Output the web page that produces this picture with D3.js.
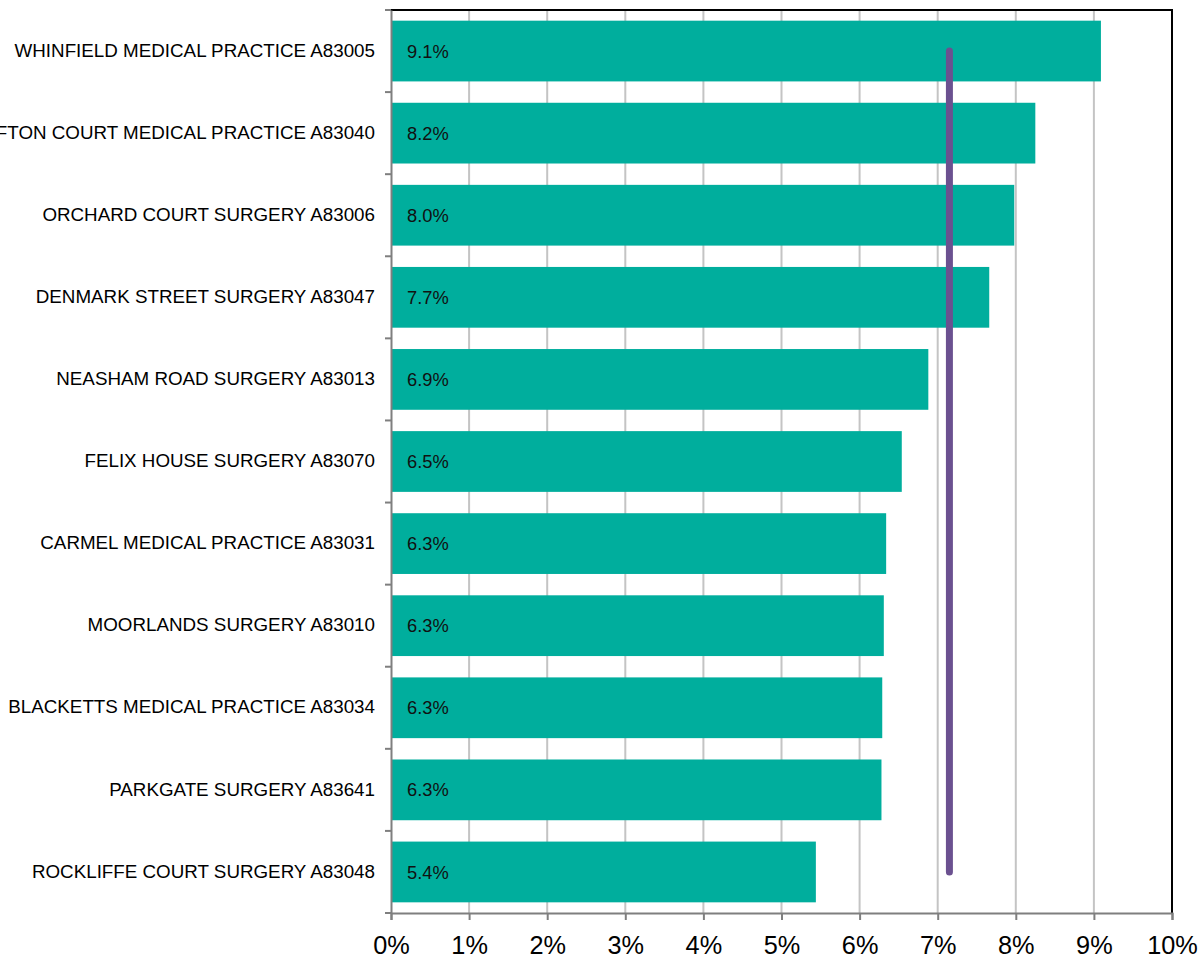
<!DOCTYPE html>
<html><head><meta charset="utf-8">
<script src="https://cdn.jsdelivr.net/npm/d3@7"></script>
<style>body{margin:0;background:#fff}svg{display:block;font-family:"Liberation Sans",Arial,sans-serif}</style>
</head><body><svg id="c" width="1203" height="958"></svg>
<script>
const categories = ["WHINFIELD MEDICAL PRACTICE A83005","CLIFTON COURT MEDICAL PRACTICE A83040","ORCHARD COURT SURGERY A83006","DENMARK STREET SURGERY A83047","NEASHAM ROAD SURGERY A83013","FELIX HOUSE SURGERY A83070","CARMEL MEDICAL PRACTICE A83031","MOORLANDS SURGERY A83010","BLACKETTS MEDICAL PRACTICE A83034","PARKGATE SURGERY A83641","ROCKLIFFE COURT SURGERY A83048"];
const values = [9.09, 8.25, 7.98, 7.66, 6.88, 6.54, 6.34, 6.31, 6.29, 6.28, 5.44];
const valueLabels = ["9.1%","8.2%","8.0%","7.7%","6.9%","6.5%","6.3%","6.3%","6.3%","6.3%","5.4%"];
const average = 7.15;
const xTicks = [0,1,2,3,4,5,6,7,8,9,10];

const svg = d3.select("#c");
const m = {l:391, r:1172, t:10, b:913};
const x = d3.scaleLinear().domain([0,10]).range([m.l, m.r]);
const y = d3.scaleBand().domain(categories).range([m.t, m.b]).paddingInner(0.26).paddingOuter(0.13);
const yb = d3.scaleBand().domain(categories).range([m.t, m.b]);

// gridlines
svg.append("g").selectAll("line").data(xTicks.slice(1,-1)).join("line")
  .attr("x1", d=>x(d)).attr("x2", d=>x(d)).attr("y1", m.t).attr("y2", m.b)
  .attr("stroke", "#c4c4c4").attr("stroke-width", 2);

// bars
svg.append("g").selectAll("rect").data(values).join("rect")
  .attr("x", x(0)).attr("y", (d,i)=>y(categories[i]))
  .attr("width", d=>x(d)-x(0)).attr("height", y.bandwidth())
  .attr("fill", "#00ae9d");

// value labels
svg.append("g").selectAll("text").data(valueLabels).join("text")
  .attr("x", x(0)+16).attr("y", (d,i)=>yb(categories[i])+yb.bandwidth()/2)
  .attr("dy", "0.36em").attr("font-size", 18.3).attr("fill", "#111").text(d=>d);

// average line
svg.append("line")
  .attr("x1", x(average)).attr("x2", x(average))
  .attr("y1", yb(categories[0])+yb.bandwidth()/2)
  .attr("y2", yb(categories[categories.length-1])+yb.bandwidth()/2)
  .attr("stroke", "#6b5190").attr("stroke-width", 7).attr("stroke-linecap", "round");

// frame top/right
svg.append("path").attr("d", `M${m.l},${m.t}H${m.r}V${m.b}`).attr("fill","none").attr("stroke","#000").attr("stroke-width",2);

// x axis
const xa = svg.append("g").attr("transform", `translate(0,${m.b})`)
  .call(d3.axisBottom(x).tickValues(xTicks).tickFormat(d=>d+"%").tickSize(7).tickPadding(16));
xa.select(".domain").attr("stroke","#7f7f7f").attr("stroke-width",2);
xa.selectAll(".tick line").attr("stroke","#7f7f7f").attr("stroke-width",2);
xa.selectAll("text").attr("font-size",25.3).attr("fill","#000").attr("font-family","Liberation Sans, Arial, sans-serif");

// y axis
const ya = svg.append("g").attr("transform", `translate(${m.l},0)`)
  .call(d3.axisLeft(yb).tickSize(0).tickPadding(16));
ya.select(".domain").attr("stroke","#7f7f7f").attr("stroke-width",2);
ya.selectAll("text").attr("font-size",18.8).attr("fill","#000").attr("dy","0.3em").attr("font-family","Liberation Sans, Arial, sans-serif");
// band boundary ticks
const bounds = categories.map(c=>yb(c)).concat([m.b]);
svg.append("g").selectAll("line").data(bounds).join("line")
  .attr("x1", m.l-6).attr("x2", m.l).attr("y1", d=>d).attr("y2", d=>d)
  .attr("stroke","#7f7f7f").attr("stroke-width",2);
</script></body></html>
